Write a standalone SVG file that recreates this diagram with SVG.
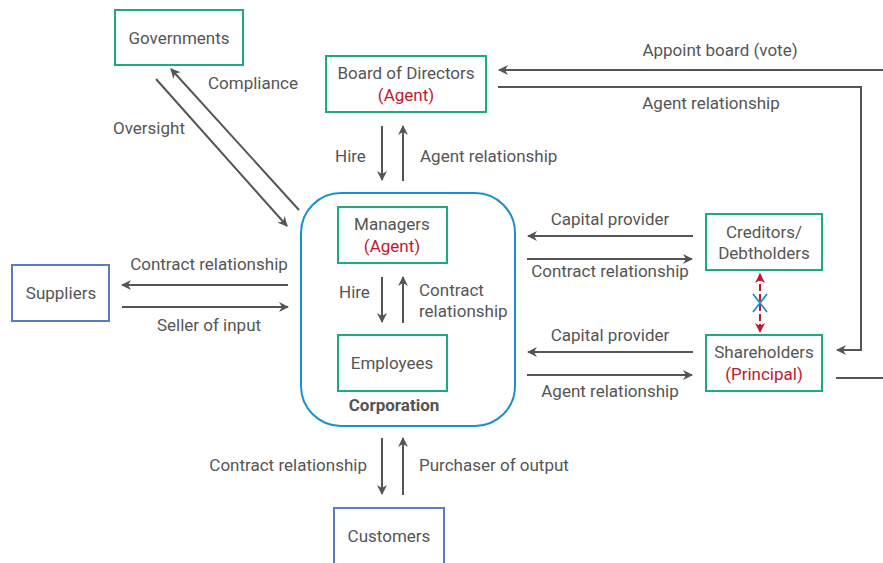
<svg xmlns="http://www.w3.org/2000/svg" width="883" height="563" viewBox="0 0 883 563">
<defs>
<marker id="ah" viewBox="0 0 10 10" refX="9" refY="5" markerWidth="10" markerHeight="10" markerUnits="userSpaceOnUse" orient="auto-start-reverse"><path d="M0,0 L10,5 L0,10 L3,5 z" fill="#555"/></marker>
<marker id="rh" viewBox="0 0 10 10" refX="9" refY="5" markerWidth="10" markerHeight="10" markerUnits="userSpaceOnUse" orient="auto-start-reverse"><path d="M0,0 L10,5 L0,10 L3,5 z" fill="#c0182f"/></marker>
</defs>
<style>
text{font-family:Roboto,"Liberation Sans",sans-serif;font-size:17px;fill:#555}
.c{text-anchor:middle}
.e{text-anchor:end}
.r{fill:#c0182f}
.g{fill:#fff;stroke:#1ea884;stroke-width:2}
.b{fill:#fff;stroke:#5a7bc6;stroke-width:2}
.ln{fill:none;stroke:#555;stroke-width:2;marker-end:url(#ah)}
.pl{fill:none;stroke:#555;stroke-width:2}
</style>
<rect width="883" height="563" fill="#fff"/>
<g id="corporation">
<rect x="301" y="193" width="214" height="233" rx="40" fill="#fff" stroke="#1a8fd0" stroke-width="2"/>
<text x="394" y="411" class="c" style="font-weight:bold">Corporation</text>
</g>
<g id="governments"><rect class="g" x="115" y="10" width="128" height="55"/><text x="179" y="44" class="c">Governments</text></g>
<g id="board"><rect class="g" x="326" y="56" width="160" height="56"/><text x="406" y="79" class="c">Board of Directors</text><text x="406" y="101" class="c r">(Agent)</text></g>
<g id="managers"><rect class="g" x="338" y="207" width="109" height="56"/><text x="392" y="230" class="c">Managers</text><text x="392" y="252" class="c r">(Agent)</text></g>
<g id="employees"><rect class="g" x="338" y="335" width="109" height="56"/><text x="392" y="369" class="c">Employees</text></g>
<g id="suppliers"><rect class="b" x="12" y="265" width="97" height="56"/><text x="61" y="299" class="c">Suppliers</text></g>
<g id="creditors"><rect class="g" x="706" y="214" width="116" height="56"/><text x="764" y="238" class="c">Creditors/</text><text x="764" y="259" class="c">Debtholders</text></g>
<g id="shareholders"><rect class="g" x="706" y="335" width="116" height="56"/><text x="764" y="358" class="c">Shareholders</text><text x="764" y="380" class="c r">(Principal)</text></g>
<g id="customers"><rect class="b" x="334" y="508" width="110" height="60"/><text x="389" y="542" class="c">Customers</text></g>
<g id="connectors">
<line class="ln" x1="299" y1="210" x2="171" y2="69"/>
<line class="ln" x1="156" y1="79" x2="287" y2="226"/>
<line class="ln" x1="382" y1="126" x2="382" y2="180"/>
<line class="ln" x1="403" y1="181" x2="403" y2="126"/>
<line class="ln" x1="883" y1="70" x2="499" y2="70"/>
<polyline class="ln" points="498,87 861,87 861,350 837,350"/>
<line class="ln" x1="382" y1="277" x2="382" y2="322"/>
<line class="ln" x1="403" y1="323" x2="403" y2="277"/>
<line class="ln" x1="288" y1="285" x2="122" y2="285"/>
<line class="ln" x1="122" y1="307" x2="288" y2="307"/>
<line class="ln" x1="693" y1="236" x2="528" y2="236"/>
<line class="ln" x1="527" y1="259" x2="692" y2="259"/>
<line class="ln" x1="693" y1="352" x2="528" y2="352"/>
<line class="ln" x1="527" y1="375" x2="692" y2="375"/>
<line class="pl" x1="836" y1="378" x2="883" y2="378"/>
<line class="ln" x1="382" y1="438" x2="382" y2="494"/>
<line class="ln" x1="403" y1="495" x2="403" y2="438"/>
<line x1="760" y1="274" x2="760" y2="332" stroke="#c0182f" stroke-width="2" stroke-dasharray="7,3" marker-start="url(#rh)" marker-end="url(#rh)"/>
<path d="M753,294 L767,312 M767,294 L753,312" stroke="#1a8fd0" stroke-width="1.8" fill="none"/>
</g>
<g id="labels">
<text x="208" y="89">Compliance</text>
<text x="113" y="134">Oversight</text>
<text x="335" y="162">Hire</text>
<text x="420" y="162">Agent relationship</text>
<text x="720" y="56" class="c">Appoint board (vote)</text>
<text x="711" y="109" class="c">Agent relationship</text>
<text x="339" y="298">Hire</text>
<text x="419" y="296">Contract</text>
<text x="419" y="317">relationship</text>
<text x="209" y="270" class="c">Contract relationship</text>
<text x="209" y="331" class="c">Seller of input</text>
<text x="610" y="225" class="c">Capital provider</text>
<text x="610" y="277" class="c">Contract relationship</text>
<text x="610" y="341" class="c">Capital provider</text>
<text x="610" y="397" class="c">Agent relationship</text>
<text x="367" y="471" class="e">Contract relationship</text>
<text x="419" y="471">Purchaser of output</text>
</g>
</svg>
